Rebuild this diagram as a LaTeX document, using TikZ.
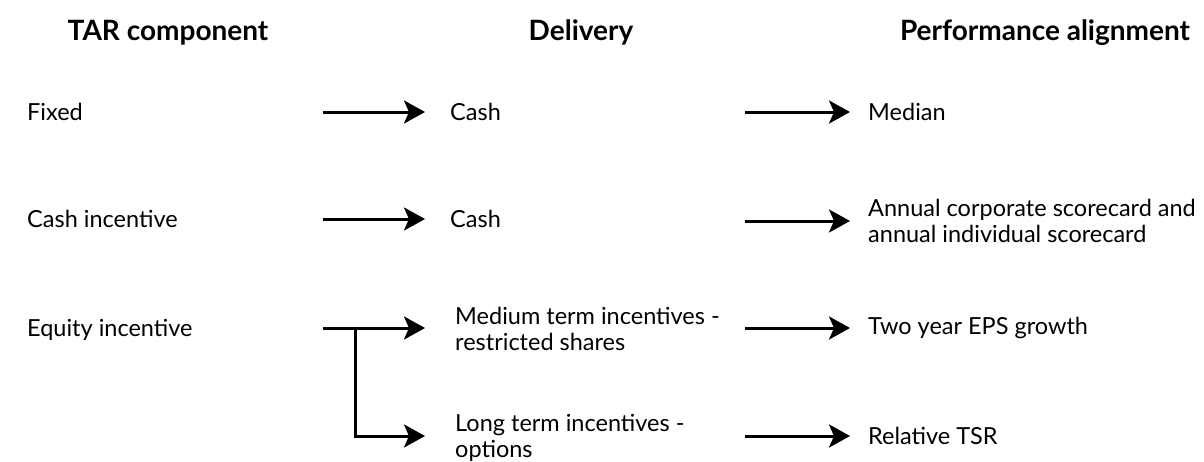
\documentclass[tikz,border=0pt]{standalone}
\usepackage{fontspec}
\setmainfont{Lato}
\usetikzlibrary{arrows.meta}
\begin{document}
\begin{tikzpicture}[x=1pt,y=-1pt,
  txt/.style={anchor=west,inner sep=0pt,align=left,font=\fontsize{23.5}{26}\selectfont},
  hdr/.style={anchor=base,inner sep=0pt,font=\fontsize{28}{30}\selectfont\bfseries},
  arr/.style={line width=3pt,-{Stealth[length=21pt,width=23pt,inset=5pt]}}]
\useasboundingbox (0,0) rectangle (1204,461);
% headers
\node[hdr] (h1) at (168,40) {TAR component};
\node[hdr] (h2) at (581,40) {Delivery};
\node[hdr] (h3) at (1045,40) {Performance alignment};
% TAR components
\node[txt] (c1) at (27,112) {Fixed};
\node[txt] (c2) at (27,219) {Cash incentive};
\node[txt] (c3) at (27,330) {Equity incentive};
% delivery
\node[txt] (d1) at (450,112) {Cash};
\node[txt] (d2) at (450,219) {Cash};
\node[txt] (d3) at (455,329) {Medium term incentives -\\restricted shares};
\node[txt] (d4) at (455,438) {Long term incentives -\\options};
% performance alignment
\node[txt] (p1) at (868,112) {Median};
\node[txt] (p2) at (868,221) {Annual corporate scorecard and\\annual individual scorecard};
\node[txt] (p3) at (868,328) {Two year EPS growth};
\node[txt] (p4) at (868,436) {Relative TSR};
% arrow start points
\coordinate (s1) at (323,112);
\coordinate (s2) at (323,219);
\coordinate (s3) at (323,328);
\coordinate (br) at (355,328);
\coordinate (t1) at (745,112);
\coordinate (t2) at (745,221);
\coordinate (t3) at (745,328);
\coordinate (t4) at (745,436);
% connectors
\draw[arr] (s1) -- ([xshift=-25pt]d1.west);
\draw[arr] (s2) -- ([xshift=-25pt]d2.west);
\draw[arr] (s3) -- ([xshift=-30pt]d3.west |- s3);
\draw[arr] (br) |- ([xshift=-30pt]d4.west |- t4);
\draw[arr] (t1) -- ([xshift=-18pt]p1.west);
\draw[arr] (t2) -- ([xshift=-18pt]p2.west);
\draw[arr] (t3) -- ([xshift=-18pt]p3.west);
\draw[arr] (t4) -- ([xshift=-18pt]p4.west);
\end{tikzpicture}
\end{document}
